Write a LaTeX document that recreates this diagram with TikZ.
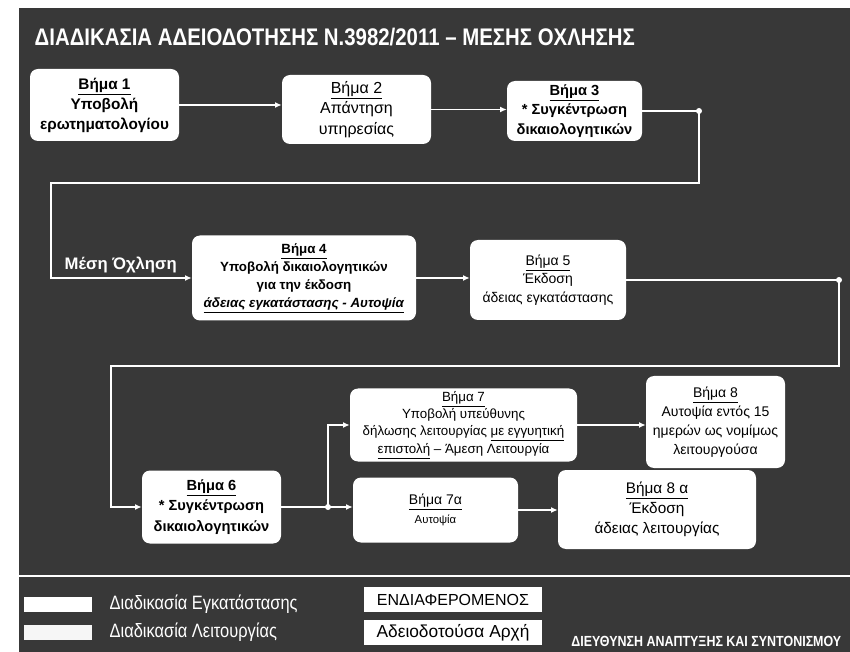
\documentclass[tikz,border=0pt]{standalone}
\usepackage{fontspec}
\setmainfont{Liberation Sans}
\newfontfamily\narrowfont{Liberation Sans}[FakeStretch=0.85]
\usepackage{tikz}
\usetikzlibrary{arrows.meta}
\definecolor{panelgrey}{RGB}{56,56,56}

\begin{document}
\begin{tikzpicture}[x=0.75pt,y=0.75pt,yscale=-1,xscale=1,
  stepbox/.style={fill=white,rounded corners=6pt,align=center,inner sep=2pt,text=black},
  flow/.style={draw=white,line width=1.1pt,-{Latex[length=5pt,width=4.5pt]}},
  joint/.style={circle,fill=white,inner sep=0pt,minimum size=4.5pt},
  swatch/.style={fill=white,inner sep=0pt,minimum width=51pt,minimum height=11.25pt},
  rolebox/.style={fill=white,text=black,inner sep=0pt,minimum width=133.5pt,minimum height=18.75pt,font=\fontsize{12}{14}\selectfont},
  legtext/.style={anchor=west,text=white,font=\narrowfont\fontsize{14.5}{16}\selectfont}]
%set diagram size 850 x 652
\path[use as bounding box,fill=white] (0,0) rectangle (850,652);
%Shape: Rectangle
\fill[panelgrey] (19,8) rectangle (850,652);

% Text Node
\node[anchor=west,text=white,font=\narrowfont\fontsize{18}{20}\selectfont\bfseries] (title) at (30,37) {ΔΙΑΔΙΚΑΣΙΑ ΑΔΕΙΟΔΟΤΗΣΗΣ Ν.3982/2011 – ΜΕΣΗΣ ΟΧΛΗΣΗΣ};

%Shape: Rounded Rect
\node[stepbox,minimum width=111.75pt,minimum height=54pt,font=\fontsize{11.5}{15}\selectfont\bfseries] (step1) at (104.5,105) {\underline{Βήμα 1}\\Υποβολή\\ερωτηματολογίου};
%Shape: Rounded Rect
\node[stepbox,minimum width=111.75pt,minimum height=51.75pt,font=\fontsize{12}{15.4}\selectfont] (step2) at (356.5,109.5) {\underline{Βήμα 2}\\Απάντηση\\υπηρεσίας};
%Shape: Rounded Rect
\node[stepbox,minimum width=101.25pt,minimum height=45pt,font=\fontsize{11}{14.6}\selectfont\bfseries] (step3) at (574.5,111) {\underline{Βήμα 3}\\* Συγκέντρωση\\δικαιολογητικών};
%Shape: Rounded Rect
\node[stepbox,minimum width=168pt,minimum height=63.75pt,font=\fontsize{10}{13.5}\selectfont\bfseries] (step4) at (304,278) {\underline{Βήμα 4}\\Υποβολή δικαιολογητικών\\για την έκδοση\\\underline{\textit{άδειας εγκατάστασης - Αυτοψία}}};
%Shape: Rounded Rect
\node[stepbox,minimum width=117pt,minimum height=60pt,font=\fontsize{10.5}{14}\selectfont] (step5) at (548,280) {\underline{Βήμα 5}\\Έκδοση\\άδειας εγκατάστασης};
%Shape: Rounded Rect
\node[stepbox,minimum width=104.25pt,minimum height=54.75pt,font=\fontsize{11}{15.4}\selectfont\bfseries] (step6) at (211.5,507) {\underline{Βήμα 6}\\* Συγκέντρωση\\δικαιολογητικών};
%Shape: Rounded Rect
\node[stepbox,minimum width=170.25pt,minimum height=54.75pt,font=\fontsize{10}{13}\selectfont] (step7) at (463.5,425) {\underline{Βήμα 7}\\Υποβολή υπεύθυνης\\δήλωσης λειτουργίας \underline{με εγγυητική}\\\underline{επιστολή} – Άμεση Λειτουργία};
%Shape: Rounded Rect
\node[stepbox,minimum width=123.75pt,minimum height=48.75pt,font=\fontsize{10.5}{14}\selectfont] (step7a) at (435.5,510) {\underline{Βήμα 7α}\\{\fontsize{8.5}{12}\selectfont Αυτοψία}};
%Shape: Rounded Rect
\node[stepbox,minimum width=104.25pt,minimum height=69pt,font=\fontsize{10.5}{14.3}\selectfont] (step8) at (715.5,422) {\underline{Βήμα 8}\\Αυτοψία εντός 15\\ημερών ως νομίμως\\λειτουργούσα};
%Shape: Rounded Rect
\node[stepbox,minimum width=148.5pt,minimum height=59.25pt,font=\fontsize{11.5}{15}\selectfont] (step8a) at (657,509.5) {\underline{Βήμα 8 α}\\Έκδοση\\άδειας λειτουργίας};

%Straight Lines
\coordinate (k1) at (699,183);
\coordinate (k2) at (51,183);
\coordinate (k3) at (839,366);
\coordinate (k4) at (111,366);
\coordinate (br) at (328,0);
\draw[flow] (step1.east) -- (step1.east -| step2.west);
\draw[flow] (step2.east) -- (step2.east -| step3.west);
\draw[flow] (step3.east) -| (k1) -- (k2) |- (step4.west);
\draw[flow] (step4.east) -- (step4.east -| step5.west);
\draw[flow] (step5.east) -| (k3) -- (k4) |- (step6.west);
\draw[flow] (step6.east) -- (step6.east -| step7a.west);
\node[joint] (j3) at (br |- step6.east) {};
\draw[flow] (j3.center) |- (step7.west);
\draw[flow] (step7.east) -- (step7.east -| step8.west);
\draw[flow] (step7a.east) -- (step7a.east -| step8a.west);
\node[joint] (j1) at (step3.east -| k1) {};
\node[joint] (j2) at (step5.east -| k3) {};

% Text Node
\node[anchor=south west,text=white,font=\fontsize{12.5}{14}\selectfont\bfseries] (oxlisi) at (60,278) {Μέση Όχληση};

%Straight Lines
\coordinate (sepl) at (19,576);
\coordinate (sepr) at (850,576);
\draw[white,line width=1.8pt] (sepl) -- (sepr);

%Shape: Rectangle
\node[swatch] (sw1) at (58,604.5) {};
\node[swatch,fill=white!93!gray] (sw2) at (58,632.5) {};
% Text Node
\node[legtext] (lt1) at (105,604.5) {Διαδικασία Εγκατάστασης};
% Text Node
\node[legtext] (lt2) at (105,632.5) {Διαδικασία Λειτουργίας};
% Text Node
\node[rolebox] (role1) at (453,599.5) {ΕΝΔΙΑΦΕΡΟΜΕΝΟΣ};
% Text Node
\node[rolebox,font=\fontsize{13}{15}\selectfont] (role2) at (453,632.5) {Αδειοδοτούσα Αρχή};
% Text Node
\node[anchor=east,text=white,font=\narrowfont\fontsize{11}{13}\selectfont\bfseries] (dept) at (846,641) {ΔΙΕΥΘΥΝΣΗ ΑΝΑΠΤΥΞΗΣ ΚΑΙ ΣΥΝΤΟΝΙΣΜΟΥ};
\end{tikzpicture}
\end{document}
